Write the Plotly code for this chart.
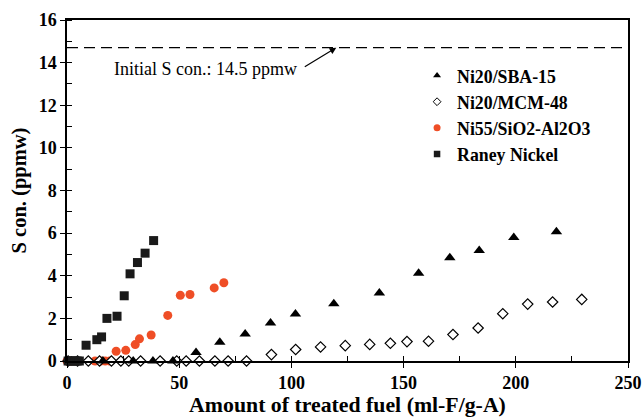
import plotly.graph_objects as go

# ---- data ----
sba15_x = [2, 16, 29.5, 38.3, 47.2, 57.5, 68.1, 79.4, 90.7, 101.8, 118.9, 139.2, 156.7, 170.6, 183.7, 199.1, 218.1]
sba15_y = [0, 0, 0, 0, 0, 0.40, 0.88, 1.27, 1.78, 2.20, 2.69, 3.19, 4.12, 4.85, 5.18, 5.79, 6.07]

mcm48_x = [0.5, 4.7, 9.5, 14.5, 19.8, 24.0, 27.5, 32.8, 41.5, 48.9, 53.1, 59.0, 65.9, 71.8, 80.0,
           91.1, 101.9, 113.0, 124.0, 134.9, 144.1, 151.5, 161.1, 172.0, 183.2, 194.2, 205.3, 216.4, 229.4]
mcm48_y = [0, 0, 0, 0, 0, 0, 0, 0, 0, 0, 0, 0, 0, 0, 0,
           0.30, 0.54, 0.66, 0.72, 0.78, 0.83, 0.91, 0.93, 1.24, 1.55, 2.22, 2.67, 2.77, 2.89]

ni55_x = [0, 1.5, 12.5, 15, 17, 19, 21.9, 26.2, 30.4, 32.3, 37.5, 44.9, 50.5, 54.8, 65.6, 69.9]
ni55_y = [0, 0, 0, 0, 0, 0, 0.46, 0.50, 0.77, 1.04, 1.22, 2.14, 3.08, 3.12, 3.43, 3.67]

raney_x = [0.5, 1.5, 2.5, 3.5, 4.5, 5.5, 8.5, 13.3, 15.4, 17.8, 22.3, 25.5, 28.1, 31.4, 34.8, 38.6]
raney_y = [0, 0, 0, 0, 0, 0, 0.74, 1.00, 1.13, 2.00, 2.10, 3.06, 4.09, 4.62, 5.06, 5.65]

initial_s = 14.7
x_range = [0, 250]
y_range = [0, 16]
x_ticks = [0, 50, 100, 150, 200, 250]
y_ticks = [0, 2, 4, 6, 8, 10, 12, 14, 16]

RED = "#EF4E26"
FONT = "Liberation Serif"

def b(s):
    return "<b>" + str(s) + "</b>"

fig = go.Figure()

series = [
    ("Ni20/SBA-15", sba15_x, sba15_y, dict(symbol="triangle-up", size=10, color="black")),
    ("Ni20/MCM-48", mcm48_x, mcm48_y, dict(symbol="diamond", size=8, color="white",
                                            line=dict(color="black", width=1.2))),
    ("Ni55/SiO2-Al2O3", ni55_x, ni55_y, dict(symbol="circle", size=9, color=RED)),
    ("Raney Nickel", raney_x, raney_y, dict(symbol="square", size=9, color="#1a1a1a")),
]
legend_markers = [
    dict(symbol="triangle-up", size=7, color="black"),
    dict(symbol="diamond", size=6, color="white", line=dict(color="black", width=1)),
    dict(symbol="circle", size=7, color=RED),
    dict(symbol="square", size=6.5, color="#1a1a1a"),
]

for name, xs, ys, mk in [series[2], series[1], series[0], series[3]]:
    fig.add_trace(go.Scatter(x=xs, y=ys, mode="markers", marker=mk, name=name,
                             showlegend=False, cliponaxis=False))

for (name, _, _, _), mk in zip(series, legend_markers):
    fig.add_trace(go.Scatter(x=[None], y=[None], mode="markers", marker=mk, name=b(name),
                             showlegend=True))

fig.add_shape(type="line", xref="x", yref="y", x0=x_range[0], x1=x_range[1],
              y0=initial_s, y1=initial_s,
              line=dict(color="black", width=1.2, dash="11px,6px"))

fig.add_annotation(x=120, y=initial_s, xref="x", yref="y", text="",
                   showarrow=True, arrowhead=2, arrowsize=1.1, arrowwidth=1.2,
                   arrowcolor="black", ax=-33, ay=20, standoff=0)
fig.add_annotation(x=0.08, xref="paper", y=13.7, yref="y", text="Initial S con.: 14.5 ppmw",
                   showarrow=False, xanchor="left", yanchor="middle",
                   font=dict(family=FONT, size=18, color="black"))

axis_common = dict(showline=True, linecolor="black", linewidth=1.5, mirror=True,
                   ticks="outside", ticklen=5, tickwidth=1.2, tickcolor="black",
                   showgrid=False, zeroline=False, automargin=False,
                   tickfont=dict(family=FONT, size=18, color="black"))

fig.update_xaxes(range=x_range, tickvals=x_ticks, ticktext=[b(v) for v in x_ticks], **axis_common,
                 minor=dict(ticks="inside", ticklen=5, tickwidth=1, tickcolor="black", dtick=25),
                 title=dict(text=b("Amount of treated fuel (ml-F/g-A)"),
                            font=dict(family=FONT, size=21.8, color="black")))
fig.update_yaxes(range=y_range, tickvals=y_ticks, ticktext=[b(v) for v in y_ticks], **axis_common,
                 minor=dict(ticks="inside", ticklen=5, tickwidth=1, tickcolor="black", dtick=1),
                 title=dict(text=b("S con. (ppmw)"), standoff=6,
                            font=dict(family=FONT, size=20.5, color="black")))

fig.update_layout(
    width=643, height=417,
    margin=dict(l=67, r=15, t=20, b=56),
    font=dict(family=FONT, color="black"),
    plot_bgcolor="white", paper_bgcolor="white",
    showlegend=True,
    legend=dict(x=0.624, y=0.89, xanchor="left", yanchor="top",
                bgcolor="rgba(0,0,0,0)", tracegroupgap=4,
                font=dict(family=FONT, size=17.8, color="black")),
)

fig.write_html("out.html")
